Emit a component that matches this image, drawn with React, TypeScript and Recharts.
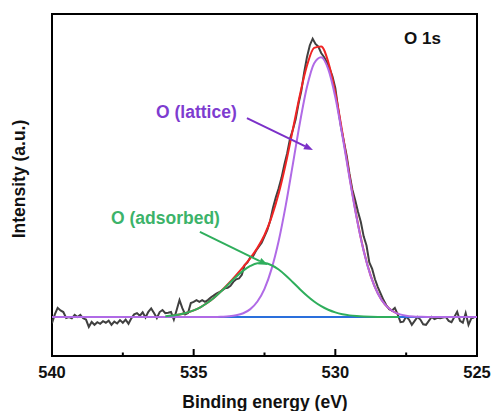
import React from 'react';
import {
  LineChart,
  Line,
  XAxis,
  YAxis,
  ReferenceArea,
  ReferenceLine,
  Customized,
} from 'recharts';

// measured spectrum, 540.0 -> 525.1 eV, 0.1 eV steps
const rawStart = 540;
const rawStep = 0.1;
const rawCounts = [
  -2.4, 1.0, 3.5, 2.5, 1.9, -0.4, 0.0, -0.5, 0.8, 0.0,
  0.8, -0.5, -1.0, -3.8, -1.9, -3.0, -2.0, -2.6, -1.6, -2.2,
  -1.4, -3.0, -1.8, -2.5, -1.2, -2.2, -1.0, -2.6, -0.5, 1.0,
  1.5, 0.5, 1.8, -0.2, 2.0, 3.3, 1.5, -0.4, 1.9, 2.7,
  1.5, 1.6, 1.9, -1.0, 2.7, 6.5, 3.4, 1.0, 1.5, 5.4,
  5.8, 6.5, 5.8, 6.5, 5.8, 6.5, 7.5, 8.2, 9.0, 9.5,
  10.2, 11.0, 11.2, 12.0, 13.5, 14.5, 14.8, 16.2, 20.0, 21.0,
  23.0, 23.5, 25.5, 27.0, 28.5, 31.0, 33.5, 37.0, 42.0, 46.0,
  49.5, 53.5, 58.5, 63.0, 68.5, 72.0, 76.0, 82.0, 87.0, 94.0,
  100.0, 104.5, 107.0, 105.0, 104.0, 101.5, 100.0, 98.0, 95.5, 92.5,
  88.0, 80.0, 73.0, 67.5, 62.0, 55.0, 49.0, 45.0, 40.5, 36.5,
  31.0, 27.5, 21.0, 18.5, 14.5, 11.5, 9.0, 6.5, 4.5, 3.0,
  2.5, 3.5, 1.0, -2.0, -1.8, 0.2, -1.0, -3.0, -1.5, 0.0,
  -1.0, -2.8, -3.0, -1.5, 0.0, -0.8, -0.3, -0.5, -0.2, 0.0,
  -1.5, -2.0, 0.0, 2.0, -1.5, -2.2, 1.5, -3.0, -0.5, -0.2,
];

// fitted components, 0.25 eV steps
const fitStep = 0.25;
const latticeStart = 540;
const latticeFit = [
  0, 0, 0, 0, 0, 0, 0, 0, 0, 0, 0, 0,
  0, 0, 0, 0, 0, 0, 0, 0, 0, 0, 0, 0,
  0.1, 0.26, 0.63, 1.43, 3.02, 5.94, 10.8, 18.5, 29.2, 42.9,
  58.7, 74.7, 88.5, 97.5, 99.9, 95.3, 84.5, 69.7, 53.5, 38.2,
  25.4, 15.7, 9.02, 4.82, 2.4, 1.11, 0.48, 0.19, 0.07,
  0, 0, 0, 0, 0, 0, 0, 0,
];
const adsorbedStart = 536;
const adsorbedFit = [
  0.31, 0.56, 0.96, 1.6, 2.54, 3.84, 5.56, 7.7, 10.17, 12.83,
  15.47, 17.83, 19.62, 20.63, 20.72, 19.89, 18.24, 15.97, 13.37, 10.69,
  8.17, 5.96, 4.15, 2.77, 1.76, 1.07, 0.62, 0.35, 0.18, 0.09,
  0.04, 0.02, 0.01, 0.0,
];
const envelopeStart = 535.75;
const envelopeFit = [
  0.56, 0.96, 1.6, 2.54, 3.84, 5.56, 7.7, 10.27, 13.09, 16.1,
  19.26, 22.64, 26.57, 31.52, 38.39, 47.44, 58.87, 72.07, 85.39, 96.67,
  103.46, 104.05, 98.07, 86.26, 70.77, 54.12, 38.55, 25.58, 15.79, 9.06,
  4.84, 2.41, 1.11,
];
const baselineEnergy = [540, 525];
const baselineValue = [0, 0];

const xTicks = [540, 537.5, 535, 532.5, 530, 527.5, 525];
const xMin = 525;
const xMax = 540;
const yMin = -15;
const yMax = 116.5;

const toSeries = (start: number, step: number, values: number[]) =>
  values.map((v, i) => ({ e: +(start - i * step).toFixed(2), v }));

const rawData = toSeries(rawStart, rawStep, rawCounts);
const latticeData = toSeries(latticeStart, fitStep, latticeFit);
const adsorbedData = toSeries(adsorbedStart, fitStep, adsorbedFit);
const envelopeData = toSeries(envelopeStart, fitStep, envelopeFit);
const baselineData = baselineEnergy.map((e, i) => ({ e, v: baselineValue[i] }));

const W = 491;
const H = 411;
const M = { top: 14, right: 14, bottom: 55, left: 52 };
const font = '"Liberation Sans", Arial, sans-serif';
const purpleLine = '#b06ae6';
const purpleText = '#7e3cd0';
const greenLine = '#2fae5c';
const greenText = '#3cb36a';

function TickLabel(props: any) {
  const { x, y, payload } = props;
  if (payload.value % 5 !== 0) return <g />;
  return (
    <text
      x={x}
      y={y + 22}
      textAnchor="middle"
      fontFamily={font}
      fontWeight="bold"
      fontSize={16.5}
      fill="#111"
    >
      {payload.value}
    </text>
  );
}

function arrowShape(color: string) {
  return (props: any) => {
    const { x1, y1, x2, y2 } = props;
    const ang = Math.atan2(y2 - y1, x2 - x1);
    const len = 9;
    const w = 3.5;
    const bx = x2 - len * Math.cos(ang);
    const by = y2 - len * Math.sin(ang);
    const px = -Math.sin(ang) * w;
    const py = Math.cos(ang) * w;
    return (
      <g>
        <line x1={x1} y1={y1} x2={bx} y2={by} stroke={color} strokeWidth={2} />
        <polygon
          points={`${x2},${y2} ${bx + px},${by + py} ${bx - px},${by - py}`}
          fill={color}
        />
      </g>
    );
  };
}

function Overlay() {
  const plotW = W - M.left - M.right;
  const bottom = H - M.bottom;
  return (
    <g>
      {/* inward tick marks on the bottom frame */}
      {xTicks.map((t) => {
        const x = M.left + ((xMax - t) / (xMax - xMin)) * plotW;
        const len = t % 5 === 0 ? 7 : 3.5;
        return (
          <rect key={t} x={x - 1} y={bottom - len} width={2} height={len} fill="#000" />
        );
      })}
      <g fontFamily={font} fontWeight="bold">
        <text x={404} y={44} fontSize={17} fill="#111">O 1s</text>
        <text x={156} y={118} fontSize={17.5} fill={purpleText}>O (lattice)</text>
        <text x={111} y={224} fontSize={17.5} fill={greenText}>O (adsorbed)</text>
        <text x={265} y={408} fontSize={17.5} fill="#111" textAnchor="middle">
          Binding energy (eV)
        </text>
        <text
          transform="translate(25,179) rotate(-90)"
          fontSize={17.5}
          fill="#111"
          textAnchor="middle"
        >
          Intensity (a.u.)
        </text>
      </g>
    </g>
  );
}

export default function App() {
  return (
    <div style={{ position: 'absolute', left: 0, top: 0, background: '#fff' }}>
      <LineChart width={W} height={H} margin={{ top: M.top, right: M.right, bottom: 0, left: M.left }}>
        <XAxis
          dataKey="e"
          type="number"
          domain={[xMin, xMax]}
          reversed
          ticks={xTicks}
          tick={<TickLabel />}
          tickLine={false}
          axisLine={false}
          tickSize={0}
          tickMargin={0}
          height={M.bottom}
          allowDataOverflow
        />
        <YAxis type="number" domain={[yMin, yMax]} hide allowDataOverflow />
        <Line data={rawData} dataKey="v" type="linear" stroke="#404040" strokeWidth={2} dot={false} isAnimationActive={false} />
        <Line data={baselineData} dataKey="v" type="linear" stroke="#2a6fdc" strokeWidth={2} dot={false} isAnimationActive={false} />
        <Line data={envelopeData} dataKey="v" type="monotone" stroke="#f02424" strokeWidth={2} dot={false} isAnimationActive={false} />
        <Line data={latticeData} dataKey="v" type="monotone" stroke={purpleLine} strokeWidth={2} dot={false} isAnimationActive={false} />
        <Line data={adsorbedData} dataKey="v" type="monotone" stroke={greenLine} strokeWidth={2} dot={false} isAnimationActive={false} />
        <ReferenceArea x1={xMax} x2={xMin} y1={yMin} y2={yMax} fill="none" stroke="#000" strokeWidth={2} ifOverflow="visible" />
        <ReferenceLine
          segment={[{ x: 533.12, y: 76.5 }, { x: 530.79, y: 64.2 }]}
          shape={arrowShape('#7b30c8')}
        />
        <ReferenceLine
          segment={[{ x: 534.78, y: 32.7 }, { x: 532.38, y: 20.0 }]}
          shape={arrowShape(greenLine)}
        />
        <Customized component={Overlay} />
      </LineChart>
    </div>
  );
}
